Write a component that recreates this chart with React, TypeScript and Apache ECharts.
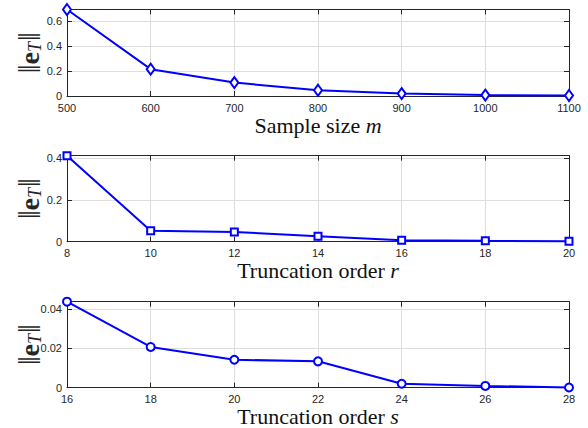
import React, { useEffect, useRef } from "react";
import * as echarts from "echarts";

const sampleSizes = [500, 600, 700, 800, 900, 1000, 1100];
const errSample = [0.69, 0.214, 0.107, 0.046, 0.019, 0.007, 0.004];

const orderR = [8, 10, 12, 14, 16, 18, 20];
const errR = [0.413, 0.053, 0.047, 0.026, 0.007, 0.004, 0.002];

const orderS = [16, 18, 20, 22, 24, 26, 28];
const errS = [0.0437, 0.0207, 0.0142, 0.0134, 0.002, 0.0009, 0.0001];

const panels = [
  { x: sampleSizes, y: errSample, xMin: 500, xMax: 1100, xInt: 100, yMax: 0.69, yInt: 0.2, symbol: "emptyDiamond", symbolSize: [8, 11], title: "Sample size ", titleVar: "m", top: 9.5, height: 86.5 },
  { x: orderR, y: errR, xMin: 8, xMax: 20, xInt: 2, yMax: 0.413, yInt: 0.2, symbol: "emptyRect", symbolSize: 7, title: "Truncation order ", titleVar: "r", top: 155.7, height: 86 },
  { x: orderS, y: errS, xMin: 16, xMax: 28, xInt: 2, yMax: 0.0437, yInt: 0.02, symbol: "emptyCircle", symbolSize: 8, title: "Truncation order ", titleVar: "s", top: 301.7, height: 86 },
];

const AX = "#262626";
const GRIDC = "#dedede";
const BLUE = "#0000ff";
const SERIF = "'Liberation Serif', 'DejaVu Serif', serif";
const SANS = "'Liberation Sans', Arial, sans-serif";

export default function App() {
  const ref = useRef<HTMLDivElement>(null);
  useEffect(() => {
    if (!ref.current) return;
    const chart = echarts.init(ref.current, null, { renderer: "svg" });
    const grids: any[] = [];
    const xAxes: any[] = [];
    const yAxes: any[] = [];
    const series: any[] = [];
    const graphics: any[] = [];
    panels.forEach((p, i) => {
      grids.push({ left: 67, right: 19, top: p.top, height: p.height });
      xAxes.push({
        type: "value", gridIndex: i, min: p.xMin, max: p.xMax, interval: p.xInt, position: "bottom",
        axisLine: { show: true, lineStyle: { color: AX, width: 1 } },
        axisTick: { show: true, inside: true, length: 5, lineStyle: { color: AX } },
        axisLabel: { color: AX, fontSize: 11, fontFamily: SANS, margin: 6, formatter: (v: number) => String(v) },
        splitLine: { show: true, lineStyle: { color: GRIDC, width: 1 } },
      });
      xAxes.push({
        type: "value", gridIndex: i, min: p.xMin, max: p.xMax, interval: p.xInt, position: "top",
        axisLine: { show: true, onZero: false, lineStyle: { color: AX, width: 1 } },
        axisTick: { show: true, inside: true, length: 5, lineStyle: { color: AX } },
        axisLabel: { show: false },
        splitLine: { show: false },
      });
      yAxes.push({
        type: "value", gridIndex: i, min: 0, max: p.yMax, interval: p.yInt, position: "left",
        axisLine: { show: true, lineStyle: { color: AX, width: 1 } },
        axisTick: { show: true, inside: true, length: 5, lineStyle: { color: AX } },
        axisLabel: { color: AX, fontSize: 11, fontFamily: SANS, margin: 5, showMaxLabel: false, formatter: (v: number) => String(+v.toFixed(6)) },
        splitLine: { show: true, lineStyle: { color: GRIDC, width: 1 } },
      });
      yAxes.push({
        type: "value", gridIndex: i, min: 0, max: p.yMax, interval: p.yInt, position: "right",
        axisLine: { show: true, onZero: false, lineStyle: { color: AX, width: 1 } },
        axisTick: { show: true, inside: true, length: 5, lineStyle: { color: AX } },
        axisLabel: { show: false },
        splitLine: { show: false },
      });
      series.push({
        type: "line", xAxisIndex: i * 2, yAxisIndex: i * 2,
        data: p.x.map((v, k) => [v, p.y[k]]),
        symbol: p.symbol, symbolSize: p.symbolSize, showAllSymbol: true,
        lineStyle: { color: BLUE, width: 2 },
        itemStyle: { color: BLUE, borderColor: BLUE, borderWidth: 2 },
        clip: false,
      });
      const mid = p.top + p.height / 2;
      graphics.push({
        type: "text", x: 29, y: mid, rotation: Math.PI / 2,
        style: {
          text: "{n|‖}{b|e}{s|T}{n|‖}",
          align: "center", verticalAlign: "middle",
          rich: {
            n: { fontFamily: SERIF, fontSize: 31, fill: AX },
            b: { fontFamily: SERIF, fontSize: 28, fontWeight: "bold", fill: AX },
            s: { fontFamily: SERIF, fontSize: 18, fontStyle: "italic", fill: AX, padding: [12, 1, 0, 0] },
          },
        },
      });
      graphics.push({
        type: "text", x: 318, y: p.top + p.height + 29,
        style: {
          text: `{n|${p.title}}{i|${p.titleVar}}`,
          align: "center", verticalAlign: "middle",
          rich: {
            n: { fontFamily: SERIF, fontSize: 22, fill: "#111" },
            i: { fontFamily: SERIF, fontSize: 22, fontStyle: "italic", fill: "#111" },
          },
        },
      });
    });
    chart.setOption({
      animation: false,
      backgroundColor: "#ffffff",
      grid: grids,
      xAxis: xAxes,
      yAxis: yAxes,
      series,
      graphic: graphics,
    });
    return () => chart.dispose();
  }, []);
  return <div ref={ref} style={{ width: 588, height: 428, position: "absolute", left: 0, top: 0 }} />;
}
